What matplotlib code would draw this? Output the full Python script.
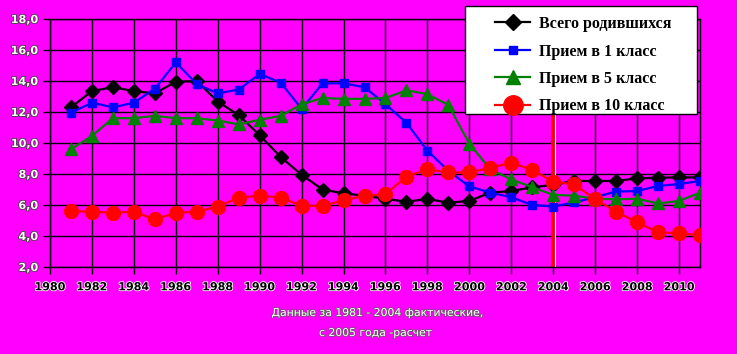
import matplotlib
matplotlib.use("Agg")
import matplotlib.pyplot as plt
import matplotlib.patheffects as pe
from matplotlib.patches import Rectangle
from matplotlib.ticker import FuncFormatter, MultipleLocator

years = list(range(1981, 2012))

births = [12.3, 13.35, 13.6, 13.35, 13.2, 13.95, 14.0, 12.67, 11.8, 10.5,
          9.1, 7.95, 7.0, 6.75, 6.6, 6.4, 6.21, 6.39, 6.15, 6.26,
          6.8, 6.9, 7.14, 7.3, 7.55, 7.55, 7.55, 7.72, 7.76, 7.78, 7.78]

grade1 = [11.95, 12.6, 12.3, 12.6, 13.5, 15.2, 13.8, 13.2, 13.45, 14.45,
          13.9, 12.2, 13.85, 13.85, 13.6, 12.5, 11.3, 9.5, 8.2, 7.2,
          6.8, 6.5, 6.0, 5.9, 6.17, 6.5, 6.87, 6.9, 7.23, 7.35, 7.55]

grade5 = [9.6, 10.45, 11.6, 11.6, 11.75, 11.6, 11.6, 11.45, 11.2, 11.5,
          11.75, 12.5, 12.9, 12.85, 12.85, 12.9, 13.4, 13.15, 12.45, 9.95,
          8.3, 7.65, 7.15, 6.65, 6.6, 6.4, 6.37, 6.4, 6.1, 6.26, 6.8]

grade10 = [5.6, 5.57, 5.5, 5.57, 5.07, 5.5, 5.57, 5.9, 6.48, 6.6,
           6.48, 5.94, 5.94, 6.3, 6.6, 6.7, 7.83, 8.3, 8.1, 8.1,
           8.4, 8.73, 8.26, 7.5, 7.33, 6.37, 5.57, 4.88, 4.24, 4.17, 4.06]

labels = ["Всего родившихся", "Прием в 1 класс", "Прием в 5 класс", "Прием в 10 класс"]
note_lines = ["Данные за 1981 - 2004 фактические,", "с 2005 года -расчет"]
split_year = 2004

bg = "#FF00FF"
fig = plt.figure(figsize=(7.37, 3.54), dpi=100, facecolor=bg)
ax = fig.add_axes([50/737, 1-267/354, 650/737, 248/354], facecolor=bg)

ax.set_xlim(1980, 2011)
ax.set_ylim(2, 18)
ax.xaxis.set_major_locator(MultipleLocator(2))
ax.yaxis.set_major_locator(MultipleLocator(2))
ax.grid(True, color="black", linewidth=1)
ax.set_axisbelow(True)
for s in ax.spines.values():
    s.set_color("black")
    s.set_linewidth(1)

ax.axvline(split_year, color="red", linewidth=3.5, zorder=1.5)
ax.axvline(split_year + 0.1, color="white", linewidth=0.8, zorder=1.5)

ax.plot(years, births, color="black", lw=1.6, marker="D", ms=7,
        mfc="black", mec="black", label=labels[0], zorder=3)
ax.plot(years, grade1, color="blue", lw=1.6, marker="s", ms=6,
        mfc="blue", mec="blue", label=labels[1], zorder=3.1)
ax.plot(years, grade5, color="green", lw=1.6, marker="^", ms=9,
        mfc="green", mec="green", label=labels[2], zorder=3.2)
ax.plot(years, grade10, color="red", lw=1.6, marker="o", ms=10,
        mfc="red", mec="red", label=labels[3], zorder=3.3)

ax.yaxis.set_major_formatter(FuncFormatter(lambda v, p: f"{v:.1f}".replace(".", ",")))
ax.tick_params(axis="both", direction="out", length=5, width=1, color="black")
ax.tick_params(axis="x", pad=6)
for t in ax.get_yticklabels():
    t.set_color("white")
    t.set_fontsize(8)
    t.set_fontweight("bold")
    t.set_path_effects([pe.withStroke(linewidth=1.2, foreground="#404040")])
for t in ax.get_xticklabels():
    t.set_color("black")
    t.set_fontsize(8)
    t.set_fontweight("bold")
    t.set_path_effects([pe.withStroke(linewidth=1.2, foreground="white")])

# legend box
box = Rectangle((465/737, 1-114/354), 232/737, 108/354, transform=fig.transFigure,
                facecolor="white", edgecolor="black", linewidth=1, zorder=9)
fig.add_artist(box)

leg = fig.legend(loc="upper left", bbox_to_anchor=(495/737, 1-16/354),
                 bbox_transform=fig.transFigure,
                 prop={"family": "Liberation Serif", "weight": "bold", "size": 11.5},
                 frameon=False, handlelength=2.2, labelspacing=0.72,
                 borderpad=0, handletextpad=0.55, borderaxespad=0)
leg.set_zorder(10)
for h, ms in zip(leg.legend_handles, [8, 6, 10, 14]):
    h.set_markersize(ms)

fig.text(378/737, 1-313/354, note_lines[0], ha="center", va="center",
         color="white", fontsize=7.8,
         path_effects=[pe.withStroke(linewidth=1, foreground="#606060")])
fig.text(376/737, 1-333/354, note_lines[1], ha="center", va="center",
         color="white", fontsize=7.8,
         path_effects=[pe.withStroke(linewidth=1, foreground="#606060")])

fig.savefig("out.png", dpi=100, facecolor=bg)
